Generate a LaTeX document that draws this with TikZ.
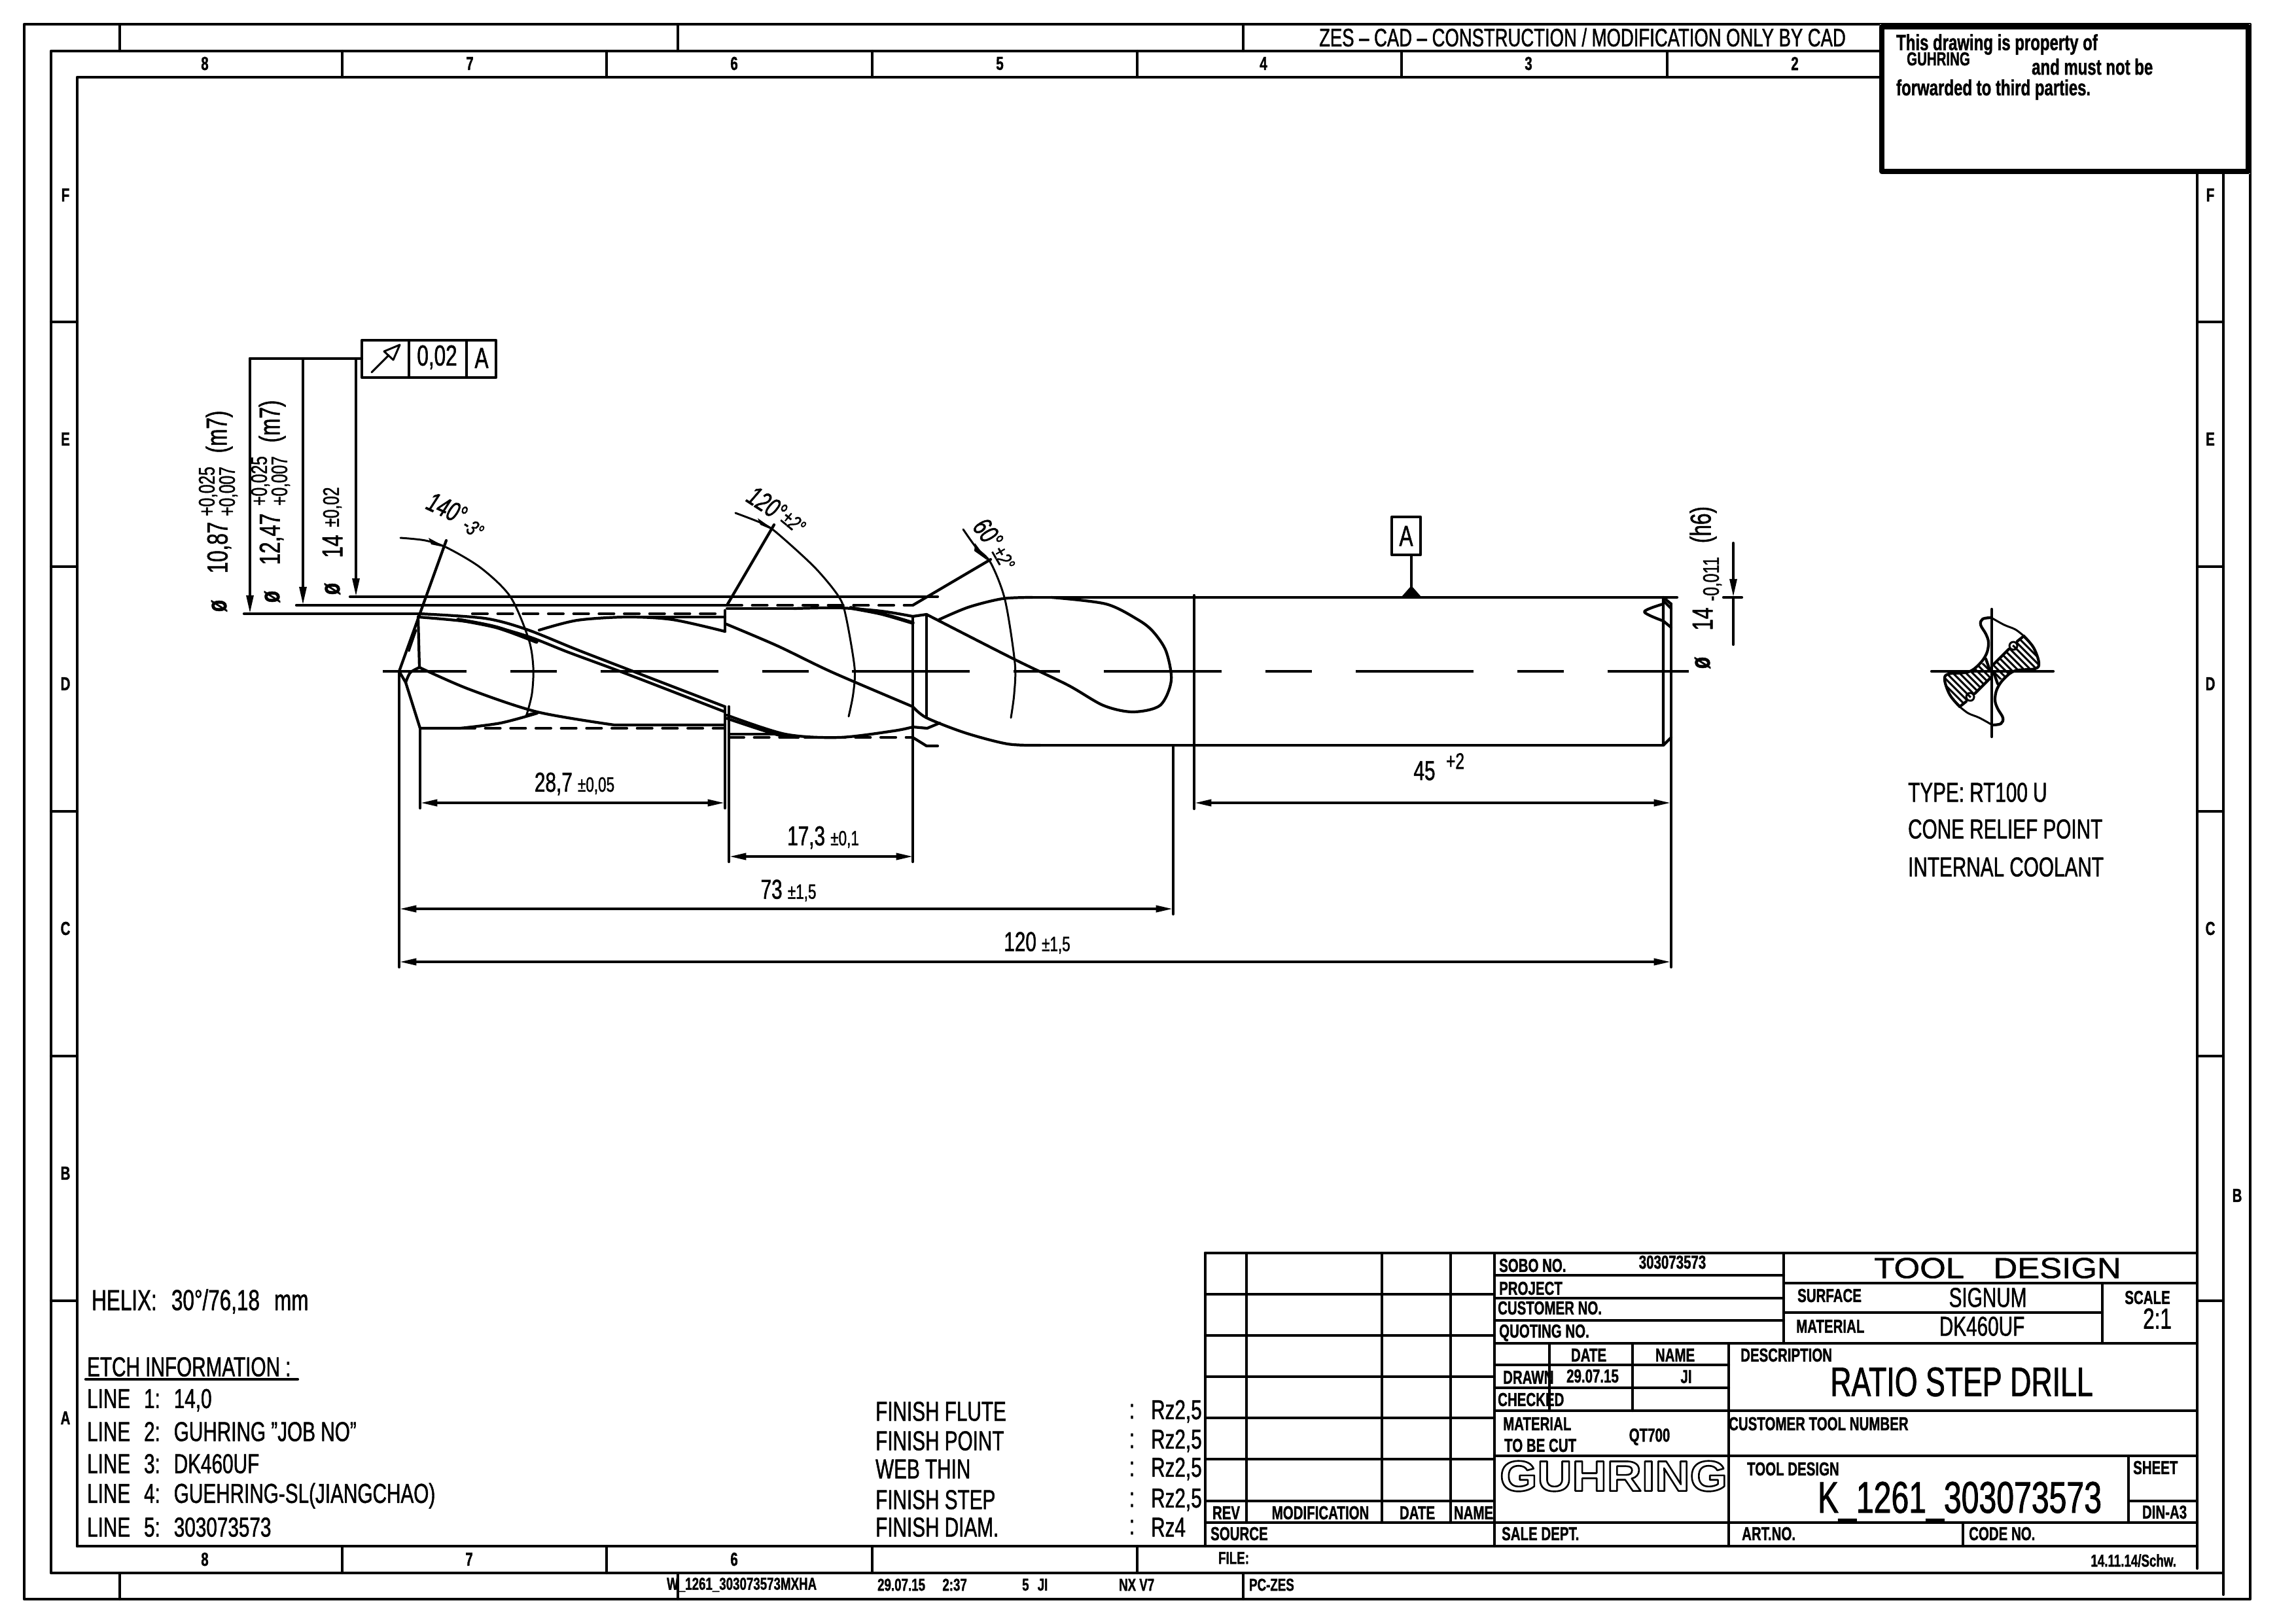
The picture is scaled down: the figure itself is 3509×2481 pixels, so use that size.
\documentclass[tikz,border=0pt]{standalone}
\usepackage{fontspec}
\usetikzlibrary{arrows.meta}
\setmainfont[FakeStretch=0.71,FakeBold=1.2]{Liberation Sans}
\newfontfamily\logofont[FakeStretch=1.12,FakeBold=4]{Liberation Sans}
\newcommand{\tol}[1]{{\fontsize{9}{9}\selectfont #1}}
\tikzset{
    heavy/.style={line width=1.2pt,line cap=round,line join=round},
    hair/.style={line width=0.85pt,line cap=round,line join=round},
    flutedash/.style={heavy,dash pattern=on 6.5pt off 4.5pt},
    centerline/.style={heavy,line cap=butt,dash pattern=on 51.2pt off 19pt on 20.2pt off 19pt,dash phase=14.8pt},
    dimline/.style={heavy,line cap=butt,{Triangle[length=7.5pt,width=2.8pt]}-{Triangle[length=7.5pt,width=2.8pt]}},
    leadline/.style={heavy,-{Triangle[length=8pt,width=3pt]}},
    lab/.style={inner sep=0pt,font=\fontsize{11.9}{12}\selectfont},
    biglab/.style={inner sep=0pt,font=\fontsize{17.9}{18}\selectfont},
    midlab/.style={inner sep=0pt,font=\fontsize{12.6}{13}\selectfont},
    tollab/.style={inner sep=0pt,font=\fontsize{9.8}{10}\selectfont},
    smalllab/.style={inner sep=0pt,font=\fontsize{8.2}{9}\selectfont\bfseries},
    notelab/.style={inner sep=0pt,font=\fontsize{9.6}{10}\selectfont\bfseries},
    striplab/.style={inner sep=0pt,font=\fontsize{7.5}{8}\selectfont\bfseries},
    gridlab/.style={inner sep=0pt,font=\fontsize{8.2}{9}\selectfont\bfseries},
    philab/.style={inner sep=0pt,rotate=90,font=\fontsize{11.9}{12}\selectfont\bfseries},
    anglab/.style={inner sep=0pt,font=\fontsize{11.9}{12}\selectfont\itshape},
    angtol/.style={inner sep=0pt,font=\fontsize{9.4}{10}\selectfont\itshape},
}
\begin{document}
\begin{tikzpicture}[x=0.01cm,y=-0.01cm,heavy]
    \useasboundingbox (0,0) rectangle (3509,2481);
    % frames
    \draw (37,37) rectangle (3439,2444);
    \draw (78,78) rectangle (3398,2404);
    \draw (3398,2404) -- (3398,2437);
    \draw (118,2363) -- (118,118) -- (3358,118) -- (3358,2397);
    \draw (118,2363) -- (3358,2363);
    % grid of the frame
    \foreach \x in {523,927,1333,1738,2142,2548} {
        \draw (\x,78) -- (\x,118);
    }
    \foreach \x in {523,927,1333,1738} {
        \draw (\x,2363) -- (\x,2404);
    }
    \foreach \x in {183,1036,1900} {
        \draw (\x,37) -- (\x,78);
        \draw (\x,2404) -- (\x,2444);
    }
    \foreach \y in {492,866,1240,1614,1988} {
        \draw (78,\y) -- (118,\y);
        \draw (3358,\y) -- (3398,\y);
    }
    \foreach \n/\x in {8/313,7/718,6/1122,5/1528,4/1931,3/2336,2/2743} {
        \node[gridlab] (top\n) at (\x,97) {\n};
    }
    \foreach \n/\x in {8/313,7/717,6/1122} {
        \node[gridlab] (bottom\n) at (\x,2383) {\n};
    }
    \foreach \n/\y in {F/298,E/671,D/1045,C/1419,B/1793,A/2167} {
        \node[gridlab] (left\n) at (100,\y) {\n};
    }
    \foreach \n/\y in {F/298,E/671,D/1045,C/1419} {
        \node[gridlab] (right\n) at (3378,\y) {\n};
    }
    \node[gridlab] (rightB) at (3419,1827) {B};
    % notice box
    \fill[white] (2873,37) rectangle (3439,266);
    \draw[line width=2.3pt] (2876,41) rectangle (3436,262);
    \node[notelab,anchor=west] (notea) at (2896,68) {This drawing is property of};
    \node[smalllab,anchor=west] (noteb) at (2912,90) {GUHRING};
    \node[notelab,anchor=west] (notec) at (3103,102) {and must not be};
    \node[notelab,anchor=west] (noted) at (2896,137) {forwarded to third parties.};
    \node[lab,anchor=west,font=\fontsize{11}{12}\selectfont] (cadonly) at (2014,57) {ZES -- CAD -- CONSTRUCTION / MODIFICATION ONLY BY CAD};
    % strip texts
    \node[striplab,anchor=west] (filename) at (1017,2422) {W\_1261\_303073573MXHA};
    \node[striplab,anchor=west] (plotdate) at (1339,2422) {29.07.15\quad 2:37};
    \node[striplab,anchor=west] (plotuser) at (1560,2422) {5\enspace JI};
    \node[striplab,anchor=west] (plotsys) at (1708,2422) {NX V7};
    \node[striplab,anchor=west] (plotpc) at (1907,2422) {PC-ZES};
    % title block, change table
    \draw (1842,1915) -- (3358,1915);
    \draw (1842,1915) -- (1842,2363);
    \draw (2284,1915) -- (2284,2363);
    \foreach \x in {1905,2112,2217} {
        \draw (\x,1915) -- (\x,2327);
    }
    \foreach \y in {1978,2041,2104,2167,2230,2294} {
        \draw (1842,\y) -- (2284,\y);
    }
    \draw (1842,2327) -- (3358,2327);
    % title block, fields
    \foreach \y in {1949,1984,2018} {
        \draw (2284,\y) -- (2726,\y);
    }
    \draw (2726,1915) -- (2726,2053);
    \draw (2284,2053) -- (3358,2053);
    \draw (2726,1961) -- (3358,1961);
    \draw (2726,2006) -- (3213,2006);
    \draw (3213,1961) -- (3213,2053);
    \draw (2368,2053) -- (2368,2156);
    \draw (2495,2053) -- (2495,2156);
    \draw (2284,2086) -- (2642,2086);
    \draw (2284,2121) -- (2642,2121);
    \draw (2642,2053) -- (2642,2363);
    \draw (2284,2156) -- (3358,2156);
    \draw (2284,2225) -- (3358,2225);
    \draw (3253,2225) -- (3253,2327);
    \draw (3253,2294) -- (3358,2294);
    \draw (3000,2327) -- (3000,2363);
    % title block, texts
    \node[smalllab,anchor=west] (sobo) at (2289,1934) {SOBO NO.};
    \node[smalllab] (sobono) at (2556,1929) {303073573};
    \node[smalllab,anchor=west] (project) at (2289,1969) {PROJECT};
    \node[smalllab,anchor=west] (customer) at (2287,1999) {CUSTOMER NO.};
    \node[smalllab,anchor=west] (quoting) at (2289,2037) {QUOTING NO.};
    \node[midlab,font=\fontsize{12.6}{13}\selectfont\addfontfeature{FakeStretch=1.15}] (tooldesign) at (3053,1938) {TOOL\quad DESIGN};
    \node[smalllab,anchor=west] (surface) at (2745,1980) {SURFACE};
    \node[lab] (signum) at (3038,1983) {SIGNUM};
    \node[smalllab,anchor=west] (material) at (2743,2027) {MATERIAL};
    \node[lab] (dk) at (3029,2027) {DK460UF};
    \node[smalllab] (scale) at (3282,1983) {SCALE};
    \node[midlab] (scaleval) at (3297,2015) {2:1};
    \node[smalllab] (datehead) at (2428,2071) {DATE};
    \node[smalllab] (namehead) at (2560,2071) {NAME};
    \node[smalllab,anchor=west] (descr) at (2658,2071) {DESCRIPTION};
    \node[smalllab,anchor=west] (drawn) at (2295,2105) {DRAWN};
    \node[smalllab] (drawndate) at (2434,2103) {29.07.15};
    \node[smalllab] (drawnname) at (2577,2104) {JI};
    \node[smalllab,anchor=west] (checked) at (2287,2139) {CHECKED};
    \node[biglab] (ratio) at (2998,2112) {RATIO STEP DRILL};
    \node[smalllab,anchor=west] (tocuta) at (2295,2176) {MATERIAL};
    \node[smalllab,anchor=west] (tocutb) at (2297,2209) {TO BE CUT};
    \node[smalllab] (qt) at (2521,2196) {QT700};
    \node[smalllab,anchor=west] (custtool) at (2640,2176) {CUSTOMER TOOL NUMBER};
    \node[inner sep=0pt,font=\fontsize{18.7}{19}\selectfont\logofont\bfseries] (logo) at (2466,2256)
        {\special{pdf:bc [1] [0]}GUHRING\special{pdf:ec}};
    \node[smalllab,anchor=west] (design) at (2668,2245) {TOOL DESIGN};
    \node[biglab,font=\fontsize{19.3}{20}\selectfont] (kno) at (2995,2295) {K\_1261\_303073573};
    \node[smalllab,anchor=west] (sheet) at (3258,2243) {SHEET};
    \node[smalllab] (din) at (3308,2311) {DIN-A3};
    \node[smalllab] (rev) at (1874,2312) {REV};
    \node[smalllab] (modif) at (2018,2312) {MODIFICATION};
    \node[smalllab] (date) at (2166,2312) {DATE};
    \node[smalllab] (name) at (2252,2312) {NAME};
    \node[smalllab,anchor=west] (source) at (1848,2344) {SOURCE};
    \node[smalllab,anchor=west] (sale) at (2293,2344) {SALE DEPT.};
    \node[smalllab,anchor=west] (art) at (2660,2344) {ART.NO.};
    \node[smalllab,anchor=west] (code) at (3007,2344) {CODE NO.};
    \node[striplab,anchor=west] (file) at (1860,2381) {FILE:};
    \node[striplab,anchor=east] (rev14) at (3328,2385) {14.11.14/Schw.};
    % notes
    \node[midlab,anchor=west] (helix) at (138,1989) {HELIX:\enspace 30°/76,18\enspace mm};
    \node[lab,anchor=west] (etch) at (131,2089) {ETCH INFORMATION :};
    \draw (131,2108) -- (455,2108);
    \foreach \n/\t/\y in {1/14{,}0/2140,2/GUHRING "JOB NO"/2188,3/DK460UF/2237,4/GUEHRING-SL(JIANGCHAO)/2286,5/303073573/2334} {
        \node[lab,anchor=west] (line\n) at (131,\y) {LINE\enspace\n:\enspace\t};
    }
    \foreach \n/\t/\r/\y in {a/FINISH FLUTE/Rz2{,}5/2157,b/FINISH POINT/Rz2{,}5/2202,c/WEB THIN/Rz2{,}5/2245,d/FINISH STEP/Rz2{,}5/2292,e/FINISH DIAM./Rz4/2334} {
        \node[lab,anchor=west] (finish\n) at (1336,\y) {\t};
        \node[lab] (colon\n) at (1730,\y) {:};
        \node[lab,anchor=west] (rz\n) at (1757,\y) {\r};
    }
    \node[lab,anchor=west] (type) at (2914,1211) {TYPE: RT100 U};
    \node[lab,anchor=west] (cone) at (2914,1267) {CONE RELIEF POINT};
    \node[lab,anchor=west] (coolant) at (2914,1325) {INTERNAL COOLANT};
    % drill, point and first step
    \draw[centerline] (585,1026) -- (2581,1026);
    \draw (642,938) -- (639,943) -- (641,1020);
    \draw (610,1026) -- (620,1043) -- (642,1113) -- (703,1113);
    \draw[hair] (636,963) -- (625,995);
    \draw plot[smooth] coordinates {(641,1020) (627,1028) (620,1043)};
    \draw plot[smooth] coordinates {(641,1020) (716,1053) (821,1088) (939,1108)} -- (1108,1108);
    \draw plot[smooth] coordinates {(703,1113) (765,1105) (821,1090)};
    \draw[flutedash] (722,938) -- (1108,938);
    \draw[flutedash] (703,1113) -- (1108,1113);
    \draw plot[smooth] coordinates {(642,938) (741,945) (805,962) (882,993) (965,1025) (1108,1080)};
    \draw plot[smooth] coordinates {(639,943) (729,952) (805,972) (869,997) (958,1030) (1108,1088)};
    \draw[line width=1.6pt] plot[smooth] coordinates {(700,947) (760,959) (820,981)};
    \draw plot[smooth] coordinates {(824,963) (882,948) (958,943) (1028,947) (1108,965)};
    \draw (958,943) -- (1108,943);
    \draw (1108,933) -- (1108,965);
    \draw (1108,1080) -- (1108,1235);
    % drill, second step and neck
    \draw (1111,930) -- (1213,930);
    \draw plot[smooth] coordinates {(1213,930) (1283,929) (1347,934) (1395,942)};
    \draw[line width=1.6pt] plot[smooth] coordinates {(1300,929) (1347,938) (1395,952)};
    \draw[flutedash] (1111,925) -- (1395,925);
    \draw plot[smooth] coordinates {(1108,953) (1188,987) (1271,1027) (1395,1080)};
    \draw plot[smooth] coordinates {(1111,1093) (1200,1122) (1283,1127) (1366,1117) (1395,1111)} -- (1417,1113) -- (1436,1105);
    \draw plot[smooth] coordinates {(1111,1098) (1188,1123) (1220,1127)};
    \draw (1114,1122) -- (1200,1122);
    \draw[flutedash] (1114,1127) -- (1395,1127);
    \draw (1395,1127) -- (1416,1140) -- (1433,1140);
    \draw (1395,942) -- (1416,939);
    \draw (1395,942) -- (1395,1317);
    \draw (1416,939) -- (1416,1097);
    \draw (1114,1080) -- (1114,1317);
    % drill, shank and flute run out
    \draw plot[smooth] coordinates {(1435,947) (1480,928) (1532,915) (1578,913)};
    \draw plot[smooth] coordinates {(1416,939) (1549,1007) (1632,1047) (1686,1078) (1731,1088) (1773,1078) (1790,1040) (1782,995) (1762,965) (1739,947) (1690,923) (1607,913)};
    \draw plot[smooth] coordinates {(1395,1080) (1416,1097) (1475,1120) (1540,1137) (1590,1139)};
    \draw (1578,913) -- (2563,913);
    \draw (1590,1139) -- (2542,1139);
    \draw (2542,913) -- (2542,1139) -- (2554,1127);
    \draw (2542,913) -- (2554,923);
    \draw (2544,920) -- (2554,930);
    \draw plot[smooth] coordinates {(2542,923) (2513,935) (2542,949)} -- (2554,959);
    % diameter dimensions
    \draw (373,938) -- (642,938);
    \draw (453,925) -- (1111,925);
    \draw (535,912) -- (1433,912);
    \draw (382,548) -- (553,548);
    \draw[leadline] (382,548) -- (382,938);
    \draw[leadline] (463,548) -- (463,925);
    \draw[leadline] (544,548) -- (544,912);
    \draw (553,520) rectangle (758,577);
    \draw (625,520) -- (625,577);
    \draw (713,520) -- (713,577);
    \draw[hair] (568,569) -- (594,543);
    \draw[hair] (611,527) -- (587,537) -- (601,550) -- cycle;
    \node[midlab] (runout) at (668,546) {0,02};
    \node[midlab] (runoutref) at (736,547) {A};
    \node[philab] (phia) at (335,926) {ø};
    \node[midlab,rotate=90] (dia) at (335,837) {10,87};
    \node[tollab,rotate=90] (diaup) at (318,751) {+0,025};
    \node[tollab,rotate=90] (dialow) at (349,751) {+0,007};
    \node[midlab,rotate=90] (fita) at (335,660) {(m7)};
    \node[philab] (phib) at (416,912) {ø};
    \node[midlab,rotate=90] (dib) at (415,824) {12,47};
    \node[tollab,rotate=90] (dibup) at (398,735) {+0,025};
    \node[tollab,rotate=90] (diblow) at (429,735) {+0,007};
    \node[midlab,rotate=90] (fitb) at (416,644) {(m7)};
    \node[philab] (phic) at (508,900) {ø};
    \node[midlab,rotate=90] (dic) at (508,835) {14};
    \node[tollab,rotate=90] (dictol) at (508,775) {±0,02};
    % shank diameter
    \draw (2634,913) -- (2662,913);
    \draw[leadline] (2649,830) -- (2649,913);
    \draw (2649,913) -- (2649,985);
    \node[philab] (phid) at (2602,1013) {ø};
    \node[midlab,rotate=90] (did) at (2602,946) {14};
    \node[tollab,rotate=90] (didtol) at (2617,885) {-0,011};
    \node[midlab,rotate=90] (fitd) at (2603,802) {(h6)};
    % point angles
    \draw (610,1026) -- (682,826);
    \draw[hair] plot[smooth] coordinates {(612,822) (650,826) (683,837) (735,868) (780,912) (808,977) (815,1020) (813,1060) (805,1092)};
    \fill (683,837) -- (655,822) -- (659,832) -- cycle;
    \draw (805,1093) -- (821,1089);
    \draw (1111,925) -- (1183,802);
    \draw[hair] plot[smooth] coordinates {(1124,784) (1165,800) (1188,815) (1245,867) (1282,912) (1293,943) (1306,1020) (1304,1060) (1297,1095)};
    \fill (1188,813) -- (1158,792) -- (1162,802) -- cycle;
    \draw (1395,925) -- (1514,855);
    \draw[hair] plot[smooth] coordinates {(1472,809) (1492,837) (1514,860) (1536,917) (1551,1013) (1550,1060) (1545,1097)};
    \fill (1510,857) -- (1490,830) -- (1489,842) -- cycle;
    \node[anglab,rotate=-25] (anglea) at (683,777) {140°};
    \node[angtol,rotate=-35] (angleatol) at (723,807) {-3°};
    \node[anglab,rotate=-33] (angleb) at (1172,770) {120°};
    \node[angtol,rotate=-40] (anglebtol) at (1213,798) {±2°};
    \node[anglab,rotate=-52] (anglec) at (1510,815) {60°};
    \node[angtol,rotate=-60] (anglectol) at (1534,853) {±2°};
    % datum
    \draw (2127,790) rectangle (2171,848);
    \node[midlab] (datum) at (2149,819) {A};
    \draw (2157,848) -- (2157,897);
    \fill (2142,912) -- (2157,895) -- (2172,912) -- cycle;
    % length dimensions
    \draw (642,1113) -- (642,1235);
    \draw (610,1026) -- (610,1478);
    \draw (1793,1142) -- (1793,1397);
    \draw (1825,910) -- (1825,1236);
    \draw (2554,923) -- (2554,1478);
    \draw[dimline] (642,1227) -- (1108,1227);
    \draw[dimline] (1114,1309) -- (1396,1309);
    \draw[dimline] (610,1389) -- (1793,1389);
    \draw[dimline] (610,1470) -- (2554,1470);
    \draw[dimline] (1825,1227) -- (2554,1227);
    \node[lab] (dimfirst) at (878,1198) {28,7 \tol{±0,05}};
    \node[lab] (dimsecond) at (1258,1280) {17,3 \tol{±0,1}};
    \node[lab] (dimflute) at (1205,1361) {73 \tol{±1,5}};
    \node[lab] (dimall) at (1585,1441) {120 \tol{±1,5}};
    \node[lab] (dimshank) at (2177,1178) {45};
    \node[tollab] (dimshanktol) at (2224,1163) {+2};
    % section
    \draw (2952,1026) -- (3138,1026);
    \draw (3044,931) -- (3044,1126);
    \foreach \a in {0,180} {
        \begin{scope}[rotate around={\a:(3044,1026)}]
            \draw[hair] plot[smooth,tension=0.6] coordinates {(3045,945) (3063,955) (3080,962) (3093,972)};
            \draw plot[smooth,tension=0.6] coordinates {(3093,972) (3108,990) (3116,1013) (3110,1022) (3080,1025) (3063,1037) (3052,1053) (3049,1070) (3053,1083) (3061,1097) (3058,1106) (3045,1108)};
            \draw (3047,1015) -- (3070,992);
            \draw (3083,980) -- (3093,972);
            \draw[hair] (3077,987) circle (6);
            \draw (3047,1028) -- (3053,1045);
            \begin{scope}
                \clip (3044,1018) -- (3070,992) -- (3083,980) -- (3093,972) -- (3108,990) -- (3116,1013) -- (3110,1022) -- (3080,1025) -- (3063,1037) -- (3052,1040) -- cycle;
                \foreach \k in {-100,-90,...,100} {
                    \draw[hair] (3040+\k,970) -- (3140+\k,1070);
                }
            \end{scope}
        \end{scope}
    }
\end{tikzpicture}
\end{document}
